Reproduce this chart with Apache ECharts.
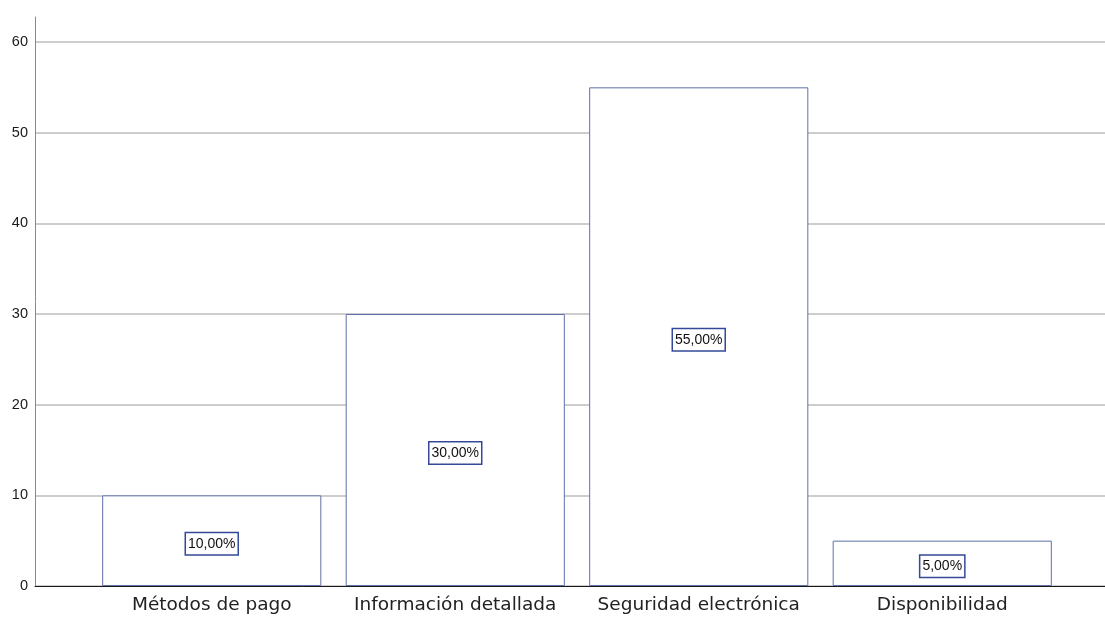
<!DOCTYPE html>
<html>
<head>
<meta charset="utf-8">
<script src="https://cdn.jsdelivr.net/npm/echarts@6/dist/echarts.min.js"></script>
<style>
  html, body { margin: 0; padding: 0; background: #ffffff; }
  #chart { width: 1105px; height: 618px; }
</style>
</head>
<body>
<div id="chart"></div>
<script>
// Categories and their percentages
const categories = ['Métodos de pago', 'Información detallada', 'Seguridad electrónica', 'Disponibilidad'];
const percentValues = [10, 30, 55, 5];
const yTicks = { min: 0, max: 60, interval: 10 };

const chart = echarts.init(document.getElementById('chart'), null, { renderer: 'canvas' });

const fmtPct = v => v.toFixed(2).replace('.', ',') + '%';

chart.setOption({
  animation: false,
  backgroundColor: '#ffffff',
  grid: [
    // frame: axis lines (y line runs a little above the top gridline)
    { left: 35, right: 0, top: 17, bottom: 32 },
    // gridlines + y labels
    { left: 35, right: 0, top: 42, bottom: 32 },
    // bars
    { left: 90, right: 41, top: 42, bottom: 32 }
  ],
  xAxis: [
    { gridIndex: 0, type: 'value', min: 0, max: 1,
      axisLine: { show: true, lineStyle: { color: '#1a1a1a', width: 1 } },
      axisTick: { show: false }, axisLabel: { show: false }, splitLine: { show: false } },
    { gridIndex: 1, type: 'value', min: 0, max: 1, show: false },
    { gridIndex: 2, type: 'category', data: categories,
      axisLine: { show: false }, axisTick: { show: false },
      axisLabel: { interval: 0, hideOverlap: false, fontFamily: 'DejaVu Sans', fontSize: 18.5,
                   color: '#222', margin: 10 } }
  ],
  yAxis: [
    { gridIndex: 0, type: 'value', min: 0, max: 62.75,
      axisLine: { show: true, lineStyle: { color: '#8a8a8a', width: 1 } },
      axisTick: { show: false }, axisLabel: { show: false }, splitLine: { show: false } },
    { gridIndex: 1, type: 'value', min: yTicks.min, max: yTicks.max, interval: yTicks.interval,
      axisLine: { show: false }, axisTick: { show: false },
      axisLabel: { fontFamily: 'Liberation Sans', fontSize: 14.5, color: '#1a1a1a', margin: 7 },
      splitLine: { show: true, lineStyle: { color: '#bdbdbd', width: 1.5 } } },
    { gridIndex: 2, type: 'value', min: yTicks.min, max: yTicks.max, show: false }
  ],
  series: [{
    type: 'bar',
    xAxisIndex: 2,
    yAxisIndex: 2,
    data: percentValues,
    barWidth: '90%',
    itemStyle: { color: '#ffffff', borderColor: '#5f70aa', borderWidth: 1 },
    label: {
      show: true,
      position: 'inside',
      offset: [0, 3],
      formatter: p => fmtPct(p.value),
      fontFamily: 'Liberation Sans',
      fontSize: 14,
      color: '#111',
      backgroundColor: '#ffffff',
      borderColor: '#34499a',
      borderWidth: 1.5,
      padding: [4, 2, 3, 2]
    }
  }]
});
</script>
</body>
</html>
